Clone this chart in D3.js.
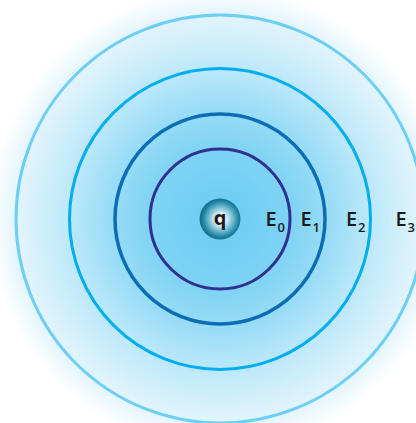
<!DOCTYPE html>
<html><head><meta charset="utf-8">
<script src="https://cdn.jsdelivr.net/npm/d3@7"></script>
<style>html,body{margin:0;padding:0;background:#fff;overflow:hidden}</style>
</head><body>
<script>
// Data
const fieldNames = ["E", "E", "E", "E"];
const fieldSubs = ["0", "1", "2", "3"];
const fieldRadii = [70, 105, 150.5, 204];
const fieldColors = ["#2e3192", "#0b6db5", "#00aeef", "#6dcff6"];
const chargeLabel = "q";

const W = 416, H = 423, cx = 220, cy = 219;
const svg = d3.select("body").append("svg").attr("width", W).attr("height", H);
const r = d3.scaleLinear().domain([0, 204]).range([0, 204]);

const defs = svg.append("defs");
const bg = defs.append("radialGradient").attr("id", "bg")
  .attr("gradientUnits", "userSpaceOnUse").attr("cx", cx).attr("cy", cy).attr("r", 232);
[[0, "#6acdf3"], [0.3, "#7ed3f4"], [0.47, "#98dcf6"], [0.65, "#bce8f9"], [0.87, "#e1f4fc"], [1, "#ffffff"]]
  .forEach(([o, c]) => bg.append("stop").attr("offset", o).attr("stop-color", c));
const qg = defs.append("radialGradient").attr("id", "qg")
  .attr("cx", 0.52).attr("cy", 0.5).attr("r", 0.5);
[[0, "#ffffff"], [0.3, "#d6edf3"], [0.65, "#5fb0c8"], [0.9, "#1b7f9e"], [1, "#17708d"]]
  .forEach(([o, c]) => qg.append("stop").attr("offset", o).attr("stop-color", c));

svg.append("rect").attr("width", W).attr("height", H).attr("fill", "url(#bg)");

svg.selectAll("circle.field").data(fieldRadii).join("circle")
  .attr("class", "field")
  .attr("cx", cx).attr("cy", cy).attr("r", d => r(d))
  .attr("fill", "none")
  .attr("stroke", (d, i) => fieldColors[i])
  .attr("stroke-width", (d, i) => i === 1 ? 3.5 : 3);

svg.append("circle").attr("cx", cx).attr("cy", cy).attr("r", 20.5).attr("fill", "url(#qg)");
svg.append("text").attr("x", cx).attr("y", cy + 6).attr("text-anchor", "middle")
  .attr("font-family", "Open Sans").attr("font-weight", 700).attr("font-size", 20)
  .attr("fill", "#1a1a1a").text(chargeLabel);

const labels = svg.selectAll("text.lab").data(fieldRadii).join("text")
  .attr("class", "lab")
  .attr("x", d => Math.min(cx + r(d) - 5, W - 1)).attr("y", cy + 7)
  .attr("text-anchor", "end")
  .attr("font-family", "Open Sans").attr("font-weight", 600).attr("font-size", 20)
  .attr("fill", "#1a1a1a");
labels.append("tspan").text((d, i) => fieldNames[i]);
labels.append("tspan").attr("font-size", 13).attr("dx", 1).attr("dy", 6).text((d, i) => fieldSubs[i]);
</script>
</body></html>
